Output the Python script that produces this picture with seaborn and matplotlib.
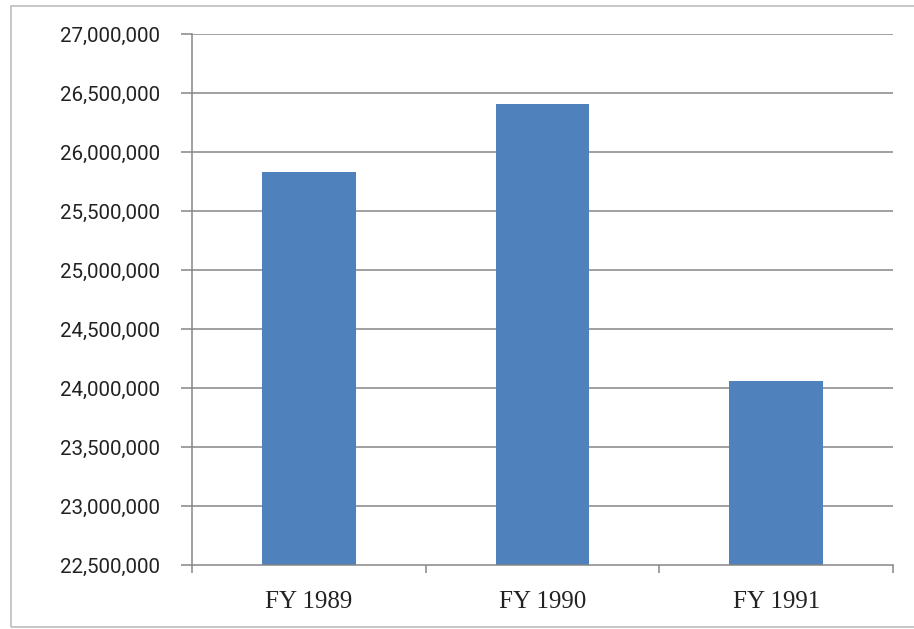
import matplotlib
matplotlib.use("Agg")
import matplotlib.pyplot as plt
import matplotlib.ticker as mticker
from matplotlib.patches import Rectangle
import seaborn as sns
import pandas as pd

categories = ["FY 1989", "FY 1990", "FY 1991"]
values = [25833000, 26405000, 24057000]
y_ticks = [22500000, 23000000, 23500000, 24000000, 24500000,
           25000000, 25500000, 26000000, 26500000, 27000000]

sns.set_theme(style="white")
plt.rcParams['font.family'] = ['DejaVu Serif']

df = pd.DataFrame({"year": categories, "value": values})

fig = plt.figure(figsize=(9.14, 6.29), dpi=100)
fig.patches.append(Rectangle((11/914, 2/629), 1.2, 621/629, transform=fig.transFigure,
                             fill=False, edgecolor="#bdbdbd", linewidth=1.2))
ax = fig.add_axes([192/914, 64/629, 701/914, 531/629])

gray = "#868686"
for t in y_ticks[1:]:
    ax.axhline(t, color=gray, linewidth=1.1, zorder=0)

sns.barplot(data=df, x="year", y="value", color="#4F81BD", width=0.4,
            saturation=1, edgecolor="none", ax=ax, zorder=2)

ax.set_ylim(y_ticks[0], y_ticks[-1])
ax.set_xlim(-0.5, len(categories) - 0.5)
ax.set_yticks(y_ticks)
ax.yaxis.set_major_formatter(mticker.FuncFormatter(lambda v, p: f"{int(v):,}"))
ax.set_xlabel("")
ax.set_ylabel("")

for s in ["top", "right"]:
    ax.spines[s].set_visible(False)
for s in ["left", "bottom"]:
    ax.spines[s].set_color(gray)
    ax.spines[s].set_linewidth(1.1)

ax.tick_params(axis="y", which="major", direction="out", length=8, width=1.1,
               color=gray, left=True, pad=15, labelcolor="#222222")
for lab in ax.get_yticklabels():
    lab.set_fontfamily("Roboto")
    lab.set_fontsize(14.8)
ax.tick_params(axis="x", which="major", length=0, pad=19,
               labelcolor="#222222")
for lab in ax.get_xticklabels():
    lab.set_fontfamily("Liberation Serif")
    lab.set_fontsize(18)
ax.set_xticks([-0.5, 0.5, 1.5, 2.5], minor=True)
ax.tick_params(axis="x", which="minor", direction="out", length=6, width=1.1,
               color=gray, bottom=True)

fig.savefig("out.png", dpi=100)
